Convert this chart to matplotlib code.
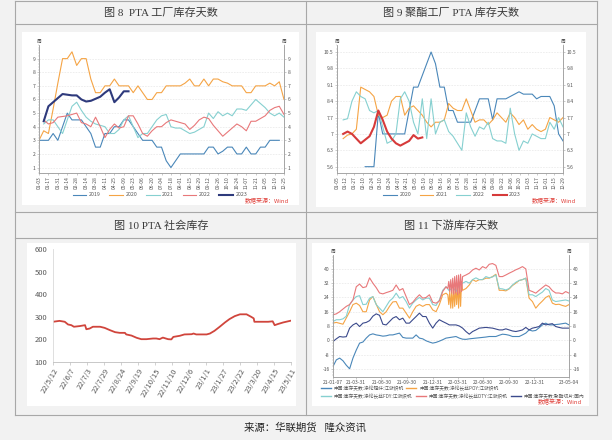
import numpy as np
import pandas as pd
import matplotlib
matplotlib.use("Agg")
import matplotlib.pyplot as plt
from matplotlib.lines import Line2D
from matplotlib.patches import Rectangle
from matplotlib.ticker import AutoMinorLocator

plt.rcParams['font.family'] = ['Noto Sans CJK SC', 'DejaVu Sans']

# ---------------- data ----------------
# fig 8: PTA plant inventory days (weekly)
f8_ticks = ["01-03", "01-17", "01-31", "02-14", "02-28", "03-14", "03-28", "04-11", "04-25",
            "05-09", "05-23", "06-06", "06-20", "07-04", "07-18", "08-01", "08-15", "08-29",
            "09-12", "09-26", "10-10", "10-24", "11-07", "11-21", "12-05", "12-19", "12-25"]
f8_2019 = [3.0, 3.0, 3.0, 3.5, 3.0, 4.0, 5.0, 4.5, 4.5, 4.5, 4.0, 3.5, 2.5, 2.5, 3.5, 3.5, 4.0, 4.0,
           4.5, 4.5, 4.0, 3.5, 3.0, 3.0, 3.0, 2.5, 2.5, 1.5, 1.0, 1.5, 2.0, 2.0, 2.0, 2.0, 2.0, 2.0,
           2.5, 2.5, 2.0, 2.2, 2.5, 2.5, 2.0, 2.0, 2.5, 2.0, 2.0, 2.5, 2.5, 3.0, 3.0, 3.0]
f8_2020 = [3.0, 3.7, 3.5, 5.3, 7.2, 9.0, 9.0, 9.5, 8.5, 9.0, 9.0, 7.5, 6.5, 6.5, 7.0, 7.0, 7.5, 7.0,
           7.0, 7.0, 6.5, 7.0, 6.5, 6.0, 6.0, 6.5, 6.5, 7.0, 7.0, 7.0, 7.0, 7.2, 7.5, 7.0, 7.0, 7.5,
           7.0, 7.5, 7.5, 7.3, 7.2, 7.0, 7.0, 7.0, 6.5, 6.5, 7.0, 7.0, 7.0, 7.2, 7.0, 7.3, 6.0]
f8_2021 = [4.2, 4.5, 4.5, 4.0, 3.5, 4.5, 5.5, 5.8, 5.2, 4.7, 4.4, 4.2, 4.1, 4.0, 3.5, 3.5, 3.8, 4.5,
           4.8, 4.0, 3.2, 3.5, 3.5, 4.0, 4.5, 4.8, 4.9, 4.0, 3.9, 3.9, 3.7, 3.5, 3.6, 3.8, 4.0, 5.0,
           4.6, 5.1, 4.8, 5.0, 4.8, 5.3, 5.3, 5.2, 5.6, 6.0, 5.7, 5.4, 5.0, 4.8, 5.0, 4.7]
f8_2022 = [4.5, 4.2, 4.3, 4.7, 4.75, 4.8, 4.9, 5.0, 4.3, 4.2, 4.0, 4.7, 4.0, 3.2, 3.8, 4.2, 3.9, 4.0,
           4.8, 4.8, 4.2, 3.5, 3.3, 3.7, 4.0, 4.0, 4.3, 4.5, 4.4, 4.3, 4.2, 3.8, 4.1, 4.5, 4.7, 4.6,
           4.1, 3.7, 3.3, 3.6, 3.9, 4.2, 4.0, 3.7, 4.4, 4.4, 4.6, 4.8, 5.2, 5.4, 5.5, 4.9]
f8_2023 = [4.4, 5.5, 5.8, 6.1, 6.4, 6.35, 6.3, 6.3, 6.0, 5.85, 5.9, 6.05, 6.2, 6.5, 6.75, 5.8, 6.15,
           6.6, 6.6]

# fig 9: polyester plant PTA inventory days (weekly)
f9_ticks = ["01-05", "01-12", "01-27", "02-10", "02-24", "03-10", "03-24", "04-07", "04-21",
            "05-05", "05-19", "06-02", "06-16", "06-30", "07-14", "07-28", "08-11", "08-25",
            "09-08", "09-22", "10-06", "10-20", "11-03", "11-17", "12-01", "12-15", "12-29"]
f9_2020 = [5.6, 5.6, 5.6, 7.9, 7.0, 7.0, 7.0, 7.0, 7.0, 7.0, 8.0, 9.0, 9.0, 9.5, 10.0, 10.5, 10.0,
           9.0, 9.0, 8.0, 8.0, 7.5, 7.5, 7.5, 7.5, 8.0, 8.5, 8.5, 8.5, 7.6, 8.5, 8.5, 8.5, 8.6, 8.7,
           8.8, 8.7, 8.7, 8.7, 8.5, 8.6, 8.6, 8.6, 8.2, 7.0, 6.7]
f9_2021 = [6.8, 6.95, 7.0, 7.2, 9.0, 8.9, 8.8, 8.6, 7.8, 7.7, 7.8, 8.4, 8.6, 8.6, 7.8, 8.1, 8.2, 8.0,
           7.8, 7.5, 7.3, 7.5, 7.5, 7.6, 8.3, 8.1, 8.0, 8.0, 8.5, 8.0, 7.5, 7.6, 7.6, 7.4, 7.6, 7.9,
           7.7, 7.5, 7.9, 7.7, 7.4, 7.6, 7.2, 7.4, 7.2, 7.1, 7.2, 7.7, 7.6, 7.5, 7.7]
f9_2022 = [7.6, 7.65, 8.4, 8.8, 8.6, 8.5, 8.0, 7.9, 8.0, 7.3, 6.6, 6.7, 7.0, 8.5, 8.8, 8.4, 7.5, 7.0,
           8.5, 6.8, 8.5, 7.0, 7.5, 7.6, 7.1, 6.9, 6.6, 6.3, 7.9, 7.3, 6.9, 7.3, 7.2, 7.5, 6.8, 6.7,
           6.7, 6.6, 8.1, 7.0, 6.3, 6.7, 6.6, 7.0, 6.9, 6.8, 6.8, 7.5, 7.2, 7.7, 7.3]
f9_2023 = [7.0, 7.1, 7.0, 6.8, 6.6, 6.75, 6.9, 7.3, 8.0, 7.6, 7.1, 6.8, 6.6, 6.5, 6.6, 6.7, 6.95,
           6.8, 6.85]
f9_yticks = [5.6, 6.3, 7.0, 7.7, 8.4, 9.1, 9.8, 10.5]
f9_ylabels = ["5.6", "6.3", "7", "7.7", "8.4", "9.1", "9.8", "10.5"]

# fig 10: PTA social inventory (10k t)
f10_dates = ["2022-05-12", "2022-05-22", "2022-05-30", "2022-06-04", "2022-06-09", "2022-06-13",
             "2022-06-22", "2022-06-30", "2022-07-02", "2022-07-07", "2022-07-12", "2022-07-23",
             "2022-07-30", "2022-08-07", "2022-08-15", "2022-08-22", "2022-08-30", "2022-09-01",
             "2022-09-09", "2022-09-17", "2022-09-24", "2022-10-02", "2022-10-12", "2022-10-17",
             "2022-10-22", "2022-10-27", "2022-11-04", "2022-11-09", "2022-11-12", "2022-11-22",
             "2022-11-29", "2022-12-10", "2022-12-13", "2022-12-17", "2023-01-02", "2023-01-07",
             "2023-01-14", "2023-01-22", "2023-01-30", "2023-02-06", "2023-02-14", "2023-02-22",
             "2023-03-04", "2023-03-11", "2023-03-15", "2023-03-16", "2023-03-24", "2023-04-06",
             "2023-04-13", "2023-04-16", "2023-04-21", "2023-04-29", "2023-05-11"]
f10_vals = [278, 282, 278, 266, 263, 256, 259, 263, 245, 248, 256, 256, 251, 241, 232, 229, 229,
            222, 217, 207, 201, 201, 204, 204, 201, 208, 201, 200, 211, 216, 222, 223, 226, 222,
            222, 226, 238, 256, 275, 290, 303, 311, 311, 300, 293, 278, 278, 278, 280, 263, 268,
            275, 283]
f10_ticks = ["22/5/12", "22/6/7", "22/7/3", "22/7/29", "22/8/24", "22/9/19", "22/10/15",
             "22/11/10", "22/12/6", "23/1/1", "23/1/27", "23/2/22", "23/3/20", "23/4/15", "23/5/11"]

# fig 11: downstream inventory days
f11_start, f11_end, f11_n = "2021-01-07", "2023-05-04", 72
f11_zig_start, f11_zig_end = "2022-02-23", "2022-04-17"
nan = np.nan
f11_short = [-14.7, -11, -10, -11.5, -14, -16, -10, -5.5, -1.6, -1, 1.2, 3, 3.6, 3, 2.7, 2.3, 2.5, 3,
             3, 3.5, 4, 1.6, 1.2, 1.2, 1.2, 3, 1.2, 0.8, -0.3, -1, -1.6, -1.2, -0.5, 0.3, 1.2, 1.5,
             1.8, 2.1, 1.2, 0.6, 0.5, 0.8, 1, 1.2, 1.4, 1.6, 1.8, 2.1, 2.1, 2.1, 2.8, 3.4, 3.2, 2.8,
             2.1, 2.1, 2.1, 3, 4, 5.8, 5.2, 5.5, 7, 8.6, 9.6, 8.6, 8.6, 8.8, 9, 9.3, 9.6, 8.6]
f11_poy = [9.6, 10, 9.5, 9, 12.5, 16, 20, 20.8, 19.5, 16, 16, 22.6, 24.5, 20.2, 16, 14.3, 16, 19,
           21.5, 21.7, 18, 18, 15.2, 12.4, 16, 19, 20, 19, 20, 20, 17, 16, 20, 25.5, 26.4, nan, nan,
           nan, nan, nan, 29, 31, 34, 33, 34, 34, 34.8, 34.8, 35.7, 37, 28, 28, 27.7, 28.8, 30.7,
           32, 33.5, 34, 34.8, 23.6, 21.7, 18, 20.2, 22, 24, 25, 20.8, 20, 20.2, 19.5, 19, 20]
f11_fdy = [10.5, 11.5, 11.5, 12, 13.5, 20, 22.6, 24.5, 25, 20, 20.2, 23.6, 24.5, 20, 18, 16, 19, 22,
           23.6, 26.4, 23.6, 24.5, 21.7, 18, 20.8, 22.6, 24, 22.6, 23.6, 23.6, 20, 19.5, 22.6, 28,
           30, 27.7, 30, 27.3, 31, 32, 33, 32, 34, 35, 34, 34, 35.7, 35, 35.5, 36.6, 29, 28.8, 28.2,
           29, 31, 32.5, 33.5, 34, 34.8, 25.5, 25.5, 24.5, 25.8, 27, 29, 28, 22.6, 21.7, 22, 22.3,
           22.6, 22]
f11_dty = [14.3, 14.8, 16, 17.5, 19, 20, 22.6, 30, 31.5, 29.5, 30, 35, 32, 29.5, 26.5, 26, 26.7, 27.3,
           28, 31, 28, 29, 24.5, 20, 21.3, 23.6, 25.5, 23.6, 24, 25.5, 21.3, 20.8, 22, 27.3, 30, nan,
           nan, nan, nan, nan, 36.6, 37.6, 39.4, 40.4, 39.4, 41.3, 40.4, 42.6, 43, 42, 35.7, 35.7,
           36.6, 37.6, 38.5, 39.5, 40.3, 41.3, 40, 28, 27.3, 26.4, 28, 29.5, 31, 30, 27.8, 26.5,
           26.5, 26, 27.3, 26.4]
f11_chip = [-0.7, 0.8, 2.1, 1.8, 2, 6.8, 8.6, 9.6, 7.7, 9.6, 10, 11, 13.5, 14.8, 14, 9, 8.6, 10.5,
            12.4, 13.3, 11.5, 12.4, 9.6, 9.6, 11.5, 13.3, 15.2, 13.3, 13.3, 9.6, 6.8, 9.6, 11.5, 10.5,
            9.6, 8.6, 8.6, 8.6, 8, 6.8, 4.9, 3.4, 4.9, 5.8, 6.8, 7, 7.2, 7, 6.8, 6.3, 5.8, 5.8, 6.4,
            5.8, 5.2, 4.9, 5.3, 5.8, 7.2, 5.8, 6.8, 7.2, 7.7, 9.6, 8.6, 9, 9.3, 7.7, 7.2, 6.8, 6.8,
            6.8]
f11_zig_poy = [25.5, 20, 27.3, 18, 28, 18, 28.8, 19, 30, 20, 31, 18, 32, 19, 33, 28]
f11_zig_dty = [29, 33, 27.3, 34, 26.4, 34.8, 25.8, 35.7, 26.4, 36.3, 25.5, 36.6, 26.4, 37, 27.3, 35.7]
f11_tick_dates = ["2021-01-07", "2021-03-31", "2021-06-30", "2021-09-30", "2021-12-31",
                  "2022-03-31", "2022-06-30", "2022-09-30", "2022-12-31", "2023-05-04"]
f11_ticks = ["21-01-07", "21-03-31", "21-06-30", "21-09-30", "21-12-31",
             "22-03-31", "22-06-30", "22-09-30", "22-12-31", "23-05-04"]
f11_names = ["中国:库存天数:涤纶短纤:江浙织机", "中国:库存天数:涤纶长丝POY:江浙织机",
             "中国:库存天数:涤纶长丝FDY:江浙织机", "中国:库存天数:涤纶长丝DTY:江浙织机",
             "中国:库存天数:聚酯切片:国内"]

# ---------------- styling ----------------
W, H = 612, 440
BG = "#f2f2f2"
FRAME = "#a8a8a8"
C_BLUE, C_ORANGE, C_CYAN, C_PINK = "#4a87b9", "#f5a445", "#86d0d0", "#e8787a"
C_NAVY, C_RED = "#2e3a7c", "#d63a3a"
WIND_RED = "#e0403a"
SERIF_CJK = ["Liberation Serif", "Noto Sans CJK SC"]

fig = plt.figure(figsize=(W / 100, H / 100), dpi=100, facecolor=BG)


def fx(x):
    return x / W


def fy(y):
    return 1 - y / H


def white_box(x0, y0, x1, y1):
    fig.add_artist(Rectangle((fx(x0), fy(y1)), fx(x1 - x0), (y1 - y0) / H,
                             transform=fig.transFigure, facecolor="white", edgecolor="none",
                             zorder=0))


def hline(y, x0=15, x1=597):
    fig.add_artist(Line2D([fx(x0), fx(x1)], [fy(y), fy(y)], color=FRAME, lw=0.8))


def vline(x, y0=1, y1=415):
    fig.add_artist(Line2D([fx(x), fx(x)], [fy(y0), fy(y1)], color=FRAME, lw=0.8))


for y in [1, 24, 212, 238, 415]:
    hline(y)
for x in [15, 306, 597]:
    vline(x)

white_box(22, 32, 299, 205)
white_box(316, 32, 586, 207)
white_box(27, 243, 296, 406)
white_box(312, 243, 589, 406)

title_kw = dict(ha="center", va="center", fontsize=8, color="#3a3a3a", family=SERIF_CJK)
fig.text(fx(161), fy(13), "图 8  PTA 工厂库存天数", **title_kw)
fig.text(fx(451), fy(13), "图 9 聚酯工厂 PTA 库存天数", **title_kw)
fig.text(fx(161), fy(226), "图 10 PTA 社会库存", **title_kw)
fig.text(fx(451), fy(226), "图 11 下游库存天数", **title_kw)
fig.text(fx(305), fy(428), "来源：华联期货   隆众资讯", ha="center", va="center",
         fontsize=7.5, color="#222222", family=SERIF_CJK)


def px_axes(l, t, r, b):
    ax = fig.add_axes([fx(l), fy(b), fx(r - l), (b - t) / H])
    ax.set_facecolor("none")
    return ax


def style_wind(ax, ylim, yticks, ylabels):
    ax.set_ylim(*ylim)
    ax.set_yticks(yticks)
    ax.set_yticklabels(ylabels)
    ax.spines["top"].set_visible(False)
    for s in ["left", "right", "bottom"]:
        ax.spines[s].set_color("#a0a0a0")
        ax.spines[s].set_linewidth(0.5)
    ax.tick_params(labelsize=3.6, colors="#a0a0a0", labelcolor="#555555", length=1.5,
                   width=0.4, pad=1)
    ax.yaxis.set_minor_locator(AutoMinorLocator(5))
    ax.tick_params(axis="y", which="minor", length=0.8, width=0.3, colors="#a0a0a0")
    ax.grid(axis="y", color="#e2e2e2", lw=0.4, ls=(0, (3, 2)))
    ax.set_axisbelow(True)
    ax2 = ax.twinx()
    ax2.set_ylim(*ylim)
    ax2.set_yticks(yticks)
    ax2.set_yticklabels(ylabels)
    ax2.yaxis.set_minor_locator(AutoMinorLocator(5))
    ax2.spines["top"].set_visible(False)
    for s in ["left", "right", "bottom"]:
        ax2.spines[s].set_color("#a0a0a0")
        ax2.spines[s].set_linewidth(0.5)
    ax2.tick_params(labelsize=3.6, colors="#a0a0a0", labelcolor="#555555", length=1.5,
                    width=0.4, pad=1)
    ax2.tick_params(axis="y", which="minor", length=0.8, width=0.3, colors="#a0a0a0")
    for xpos in [0, 1]:
        ax.text(xpos, 1.01, "周", transform=ax.transAxes, ha="center", va="bottom",
                fontsize=3.4, color="#555555")
    return ax2


def wind_source(x, y):
    fig.text(fx(x), fy(y), "数据来源：Wind", ha="right", va="center", fontsize=4.3,
             color=WIND_RED)


# ---------------- fig 8 ----------------
ax = px_axes(39, 45, 284, 173)
ax.set_xlim(0, 52)
ax.set_xticks(np.arange(0, 53, 2))
ax.set_xticklabels(f8_ticks, rotation=90)
ax.xaxis.set_minor_locator(AutoMinorLocator(2))
ax.tick_params(axis="x", which="minor", length=0.8, width=0.3, colors="#a0a0a0")
style_wind(ax, (0.6, 10), range(1, 10), [str(i) for i in range(1, 10)])
ax.plot(np.arange(len(f8_2019)), f8_2019, color=C_BLUE, lw=0.8, label="2019")
ax.plot(np.arange(len(f8_2020)), f8_2020, color=C_ORANGE, lw=0.8, label="2020")
ax.plot(np.arange(1, len(f8_2021) + 1), f8_2021, color=C_CYAN, lw=0.8, label="2021")
ax.plot(np.arange(1, len(f8_2022) + 1), f8_2022, color=C_PINK, lw=0.8, label="2022")
ax.plot(np.arange(1, len(f8_2023) + 1), f8_2023, color=C_NAVY, lw=1.5, label="2023")
ax.legend(loc="center", bbox_to_anchor=(fx(160), fy(195)), bbox_transform=fig.transFigure,
          ncol=5, frameon=False, fontsize=3.8, handlelength=2.6, columnspacing=1.6,
          handletextpad=0.5, labelcolor="#555555")
wind_source(289, 201)

# ---------------- fig 9 ----------------
ax = px_axes(337, 45, 563, 173)
ax.set_xlim(-1.4, 50)
ax.set_xticks(np.linspace(-1.4, 50, 27))
ax.set_xticklabels(f9_ticks, rotation=90)
style_wind(ax, (5.33, 10.8), f9_yticks, f9_ylabels)
ax.plot(np.arange(5, 5 + len(f9_2020)), f9_2020, color=C_BLUE, lw=0.8, label="2020")
ax.plot(np.arange(len(f9_2021)), f9_2021, color=C_ORANGE, lw=0.8, label="2021")
ax.plot(np.arange(len(f9_2022)), f9_2022, color=C_CYAN, lw=0.8, label="2022")
ax.plot(np.arange(len(f9_2023)), f9_2023, color=C_RED, lw=1.5, label="2023")
ax.legend(loc="center", bbox_to_anchor=(fx(452), fy(195)), bbox_transform=fig.transFigure,
          ncol=4, frameon=False, fontsize=3.8, handlelength=2.6, columnspacing=1.6,
          handletextpad=0.5, labelcolor="#555555")
wind_source(576, 201)

# ---------------- fig 10 ----------------
ax = px_axes(53, 249, 291, 362)
d10 = pd.to_datetime(f10_dates)
ax.plot(d10, f10_vals, color="#d0453c", lw=1.3)
tick_dates = pd.date_range("2022-05-12", periods=len(f10_ticks), freq="26D")
ax.set_xlim(tick_dates[0], tick_dates[-1])
ax.set_ylim(100, 600)
ax.set_yticks(range(100, 601, 100))
ax.set_xticks(tick_dates)
ax.set_xticklabels(f10_ticks, rotation=60, ha="right", rotation_mode="anchor")
for s in ["top", "right"]:
    ax.spines[s].set_visible(False)
ax.spines["left"].set_color("#d9d9d9")
ax.spines["bottom"].set_color("#bfbfbf")
ax.spines["left"].set_linewidth(0.6)
ax.spines["bottom"].set_linewidth(0.6)
ax.tick_params(axis="y", length=0, labelsize=5.5, labelcolor="#595959", pad=4)
ax.tick_params(axis="x", length=2, width=0.5, colors="#bfbfbf", labelsize=5.5,
               labelcolor="#595959", pad=1.5)

# ---------------- fig 11 ----------------
ax = px_axes(333, 255, 569, 377)
dates = pd.date_range(f11_start, f11_end, periods=f11_n)
zig = pd.date_range(f11_zig_start, f11_zig_end, periods=len(f11_zig_poy))


def with_zig(base, zig_vals):
    s = pd.Series(base, index=dates).dropna()
    s = s[(s.index < zig[0]) | (s.index > zig[-1])]
    return pd.concat([s, pd.Series(zig_vals, index=zig)]).sort_index()


s_poy = with_zig(f11_poy, f11_zig_poy)
s_dty = with_zig(f11_dty, f11_zig_dty)
ax.plot(dates, f11_short, color=C_BLUE, lw=0.8)
ax.plot(s_poy.index, s_poy.values, color=C_ORANGE, lw=0.8)
ax.plot(dates, f11_fdy, color=C_CYAN, lw=0.8)
ax.plot(s_dty.index, s_dty.values, color=C_PINK, lw=0.8)
ax.plot(dates, f11_chip, color="#3b4a8c", lw=0.8)
ax.set_xlim(pd.Timestamp(f11_start), pd.Timestamp(f11_end))
ax.set_xticks(pd.to_datetime(f11_tick_dates))
ax.set_xticklabels(f11_ticks)
style_wind(ax, (-20.6, 47.8), range(-16, 41, 8), [str(v) for v in range(-16, 41, 8)])

legend_items = [(f11_names[0], C_BLUE, 321, 388), (f11_names[1], C_ORANGE, 406, 388),
                (f11_names[2], C_CYAN, 321, 396), (f11_names[3], C_PINK, 416, 396),
                (f11_names[4], "#3b4a8c", 511, 396)]
for name, color, x0, y0 in legend_items:
    fig.add_artist(Line2D([fx(x0), fx(x0 + 10)], [fy(y0), fy(y0)], color=color, lw=1.0))
    fig.text(fx(x0 + 13), fy(y0), name, ha="left", va="center", fontsize=3.4, color="#555555")
wind_source(582, 402)

fig.savefig("out.png", dpi=100, facecolor=BG)
